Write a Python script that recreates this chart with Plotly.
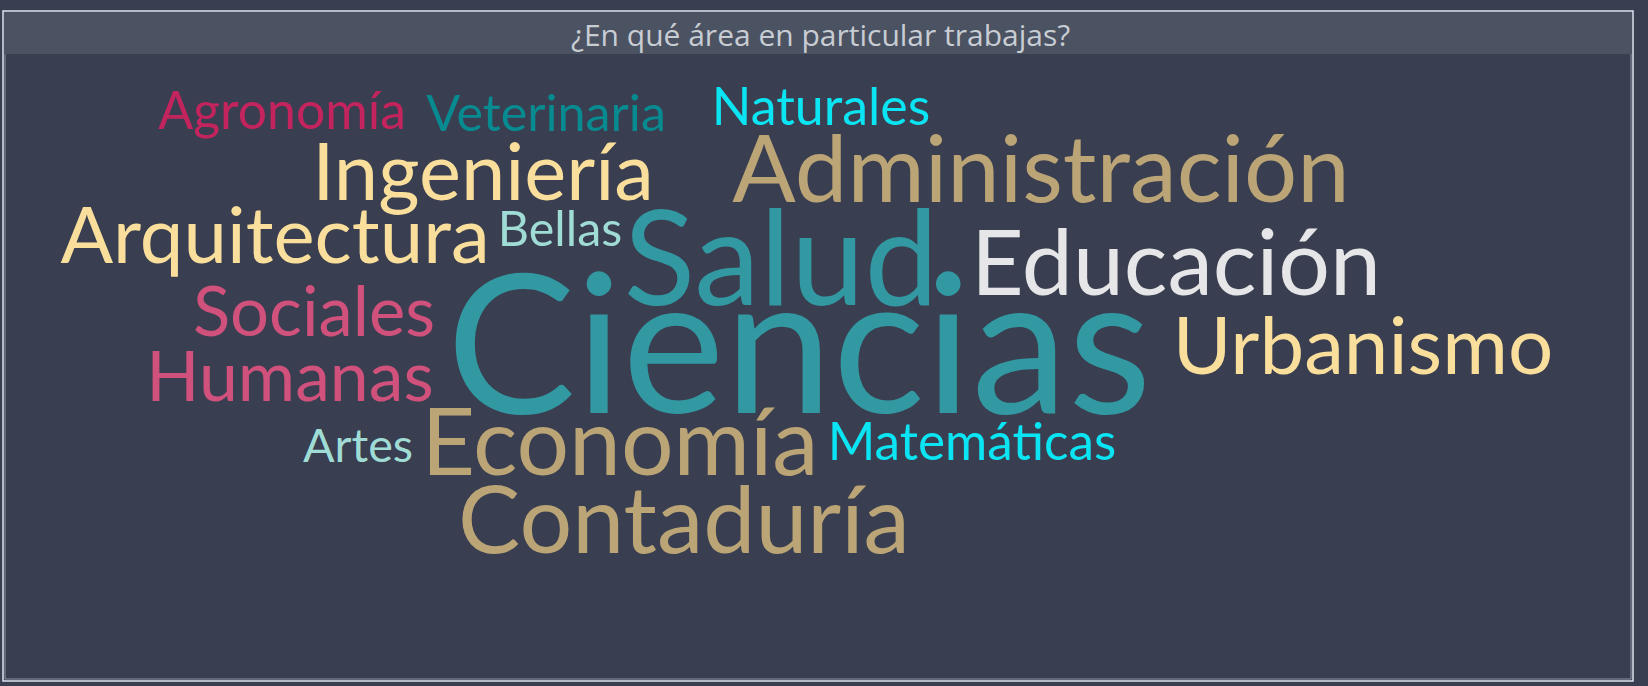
import plotly.graph_objects as go

# ---- data ----
title = "¿En qué área en particular trabajas?"
words = ["Agronomía", "Veterinaria", "Naturales", "Ingeniería", "Administración",
         "Arquitectura", "Bellas", "Salud", "Educación", "Sociales", "Ciencias",
         "Urbanismo", "Humanas", "Artes", "Economía", "Matemáticas", "Contaduría"]
counts = [2.13, 2.02, 2.15, 4.27, 5.38,
          4.15, 1.88, 8.3, 5.18, 3.45, 13.05,
          4.3, 3.52, 1.75, 5.3, 2.1, 5.32]
colors = ["#c4245e", "#078b91", "#0be4f2", "#f9de9c", "#bba577",
          "#f9de9c", "#a0dcd6", "#3298a2", "#e6e6e8", "#cf517c", "#3298a2",
          "#f9de9c", "#cf517c", "#a0dcd6", "#bba577", "#0be4f2", "#bba577"]

# ---- cloud placement (word centre x, baseline y, in page pixels) ----
place_x = [282, 546, 821, 483, 1041, 275, 560, 781, 1176, 314, 799, 1363, 290, 358, 620, 972, 684]
place_base = [129, 131, 125, 200, 202, 263, 246, 305, 295, 336, 413, 374, 401, 462, 475, 460, 553]

W, H = 1648, 686
FONT = "Lato"


def size_of(c):
    return 24 + 13 * c


sizes = [size_of(c) for c in counts]
ys = [b - 0.25 * s for b, s in zip(place_base, sizes)]

fig = go.Figure()
fig.add_trace(go.Scatter(
    x=place_x, y=ys, mode="text", text=words,
    textposition="middle center",
    textfont=dict(family=FONT, size=sizes, color=colors),
    hoverinfo="text", showlegend=False,
))

BG = "#393e50"
fig.update_layout(
    width=W, height=H,
    paper_bgcolor=BG, plot_bgcolor=BG,
    margin=dict(l=0, r=0, t=0, b=0),
    xaxis=dict(range=[0, W], visible=False, fixedrange=True),
    yaxis=dict(range=[H, 0], visible=False, fixedrange=True),
    shapes=[
        dict(type="rect", xref="x", yref="y", x0=4, x1=1632, y0=12, y1=54,
             fillcolor="#4b5262", line=dict(width=0), layer="below"),
        dict(type="rect", xref="x", yref="y", x0=3, x1=1633, y0=11, y1=681,
             line=dict(color="#dde3ee", width=1.5), fillcolor="rgba(0,0,0,0)"),
        dict(type="path", xref="x", yref="y",
             path="M5,54 L5,679 L1631,679 L1631,54",
             line=dict(color="#8c93a1", width=1)),
    ],
    annotations=[dict(text=title, x=781 * 1.051, y=34, xref="x", yref="y",
                      showarrow=False, xanchor="center", yanchor="middle",
                      font=dict(family="Open Sans", size=30, color="#c8cdd4"))],
)

fig.write_html(
    "out.html",
    config={"displayModeBar": False},
    post_script="document.body.style.margin='0';document.body.style.background='%s';" % BG,
)
